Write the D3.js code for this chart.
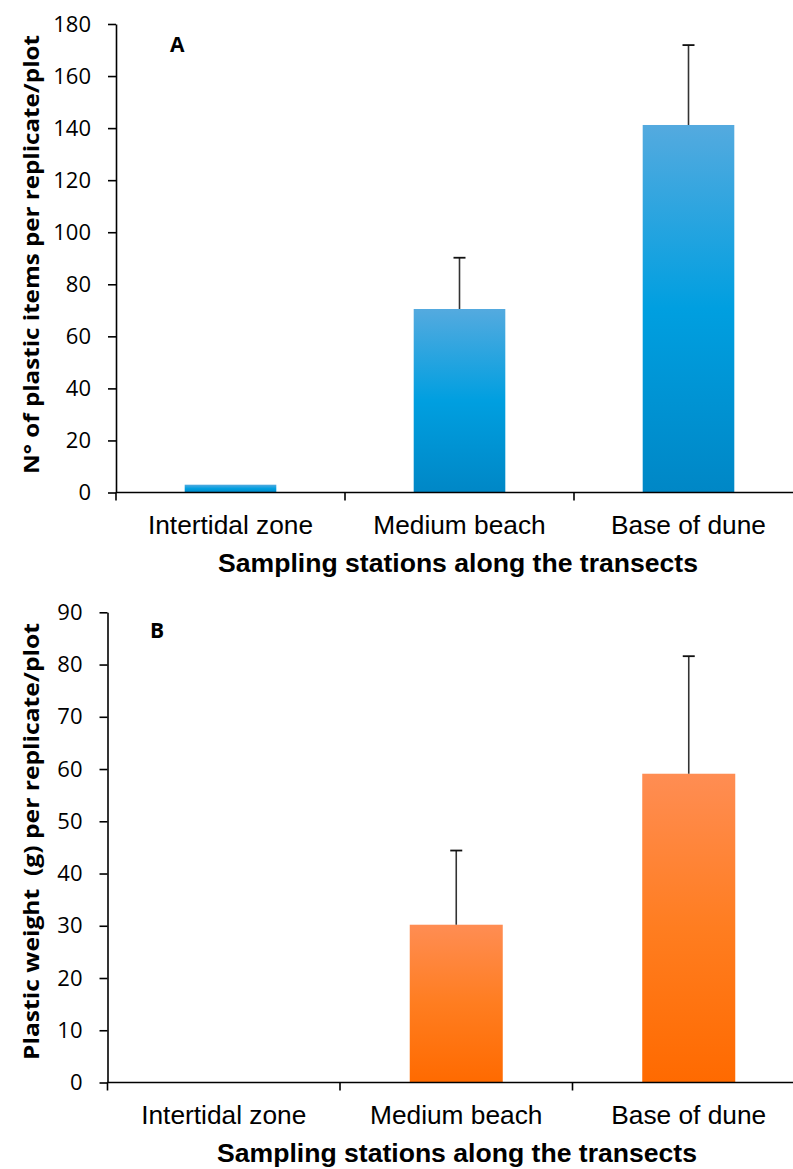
<!DOCTYPE html>
<html>
<head>
<meta charset="utf-8">
<script src="https://cdn.jsdelivr.net/npm/d3@7"></script>
<style>
  html, body { margin: 0; padding: 0; background: #fff; }
  svg { display: block; }
  text { white-space: pre; }
</style>
</head>
<body>
<svg id="chart" width="793" height="1169"></svg>
<script>
// ---------- data ----------
const categories = ["Intertidal zone", "Medium beach", "Base of dune"];

const itemsMean = [3, 70.5, 141.2];
const itemsErr  = [0, 19.7, 30.7];
const itemsTicks = [0, 20, 40, 60, 80, 100, 120, 140, 160, 180];

const weightMean = [0, 30.2, 59.1];
const weightErr  = [0, 14.2, 22.5];
const weightTicks = [0, 10, 20, 30, 40, 50, 60, 70, 80, 90];

const xTitle = "Sampling stations along the transects";
const yTitleA = "N° of plastic items per replicate/plot";
const yTitleB = "Plastic weight  (g) per replicate/plot";

// ---------- drawing ----------
const svg = d3.select("#chart");
const defs = svg.append("defs");

function gradient(id, stops) {
  const g = defs.append("linearGradient").attr("id", id)
    .attr("x1", 0).attr("y1", 0).attr("x2", 0).attr("y2", 1);
  stops.forEach(s => g.append("stop").attr("offset", s[0]).attr("stop-color", s[1]));
}
gradient("gBlue", [[0, "#54aadf"], [0.5, "#009fe0"], [1, "#0087c6"]]);
gradient("gOrange", [[0, "#ff8d53"], [0.5, "#ff7d20"], [1, "#ff6a00"]]);

function panel(o) {
  const g = svg.append("g");
  const y = d3.scaleLinear().domain([0, o.max]).range([o.y0, o.y1]);
  const x = d3.scaleBand().domain(categories).range([o.x0, o.x1])
    .paddingInner(0.6).paddingOuter(0.3);
  const step = x.step();

  // y axis
  const ya = g.append("g").attr("transform", `translate(${o.x0},0)`)
    .call(d3.axisLeft(y).tickValues(o.ticks).tickSize(8).tickSizeOuter(0).tickPadding(17));
  ya.select(".domain").attr("stroke", "#000").attr("stroke-width", 1.6);
  ya.selectAll(".tick line").attr("stroke", "#000").attr("stroke-width", 1.6);
  ya.selectAll(".tick text").attr("font-family", "'Open Sans', 'Noto Sans', sans-serif")
    .attr("font-size", 22).attr("fill", "#000");

  // bars
  g.selectAll("rect.bar").data(o.mean).enter().append("rect")
    .attr("class", "bar")
    .attr("x", (d, i) => x(categories[i]))
    .attr("width", x.bandwidth())
    .attr("y", d => y(d))
    .attr("height", d => y(0) - y(d))
    .attr("fill", `url(#${o.grad})`);

  // error bars (upper only)
  const eb = g.selectAll("g.err").data(o.mean.map((m, i) => ({m, e: o.err[i], c: categories[i]})))
    .enter().filter(d => d.e > 0).append("g").attr("class", "err");
  eb.append("line")
    .attr("x1", d => x(d.c) + x.bandwidth() / 2).attr("x2", d => x(d.c) + x.bandwidth() / 2)
    .attr("y1", d => y(d.m)).attr("y2", d => y(d.m + d.e))
    .attr("stroke", "#333").attr("stroke-width", 1.6);
  eb.append("line")
    .attr("x1", d => x(d.c) + x.bandwidth() / 2 - 6).attr("x2", d => x(d.c) + x.bandwidth() / 2 + 6)
    .attr("y1", d => y(d.m + d.e)).attr("y2", d => y(d.m + d.e))
    .attr("stroke", "#111").attr("stroke-width", 1.8);

  // x axis line
  g.append("line").attr("x1", o.x0).attr("x2", 793)
    .attr("y1", y(0)).attr("y2", y(0))
    .attr("stroke", "#000").attr("stroke-width", 1.6);
  // category ticks at band boundaries
  categories.forEach(c => {
    const bx = x(c) + x.bandwidth() / 2 - step / 2;
    g.append("line").attr("x1", bx).attr("x2", bx)
      .attr("y1", y(0)).attr("y2", y(0) + 8)
      .attr("stroke", "#000").attr("stroke-width", 1.6);
  });
  // category labels
  g.selectAll("text.cat").data(categories).enter().append("text")
    .attr("class", "cat")
    .attr("x", d => x(d) + x.bandwidth() / 2)
    .attr("y", y(0) + 41.5)
    .attr("text-anchor", "middle")
    .attr("font-family", "'Liberation Sans', Arial, sans-serif")
    .attr("font-size", 26.3).attr("fill", "#000")
    .text(d => d);

  // x title
  g.append("text")
    .attr("x", o.xTitleX).attr("y", y(0) + 79.5)
    .attr("text-anchor", "middle")
    .attr("font-family", "'Liberation Sans', Arial, sans-serif")
    .attr("font-weight", "bold")
    .attr("font-size", 26.5).attr("fill", "#000")
    .attr("textLength", 480).attr("lengthAdjust", "spacingAndGlyphs")
    .text(xTitle);

  // y title
  g.append("text")
    .attr("transform", `translate(${o.yTitleX},${o.yTitleY}) rotate(-90)`)
    .attr("text-anchor", "middle")
    .attr("xml:space", "preserve")
    .attr("font-family", "'Open Sans', 'Noto Sans', sans-serif")
    .attr("font-weight", "bold")
    .attr("font-size", 20.5).attr("fill", "#000")
    .attr("textLength", o.yTitleLen).attr("lengthAdjust", "spacingAndGlyphs")
    .text(o.yTitle);

  // panel letter
  g.append("text")
    .attr("x", o.letterX).attr("y", o.letterY)
    .attr("font-family", "'Open Sans', 'Noto Sans', sans-serif")
    .attr("font-weight", "bold")
    .attr("font-size", 21).attr("fill", "#000")
    .text(o.letter);
}

panel({
  max: 180, ticks: itemsTicks, mean: itemsMean, err: itemsErr, grad: "gBlue",
  x0: 116, x1: 803, y0: 492.5, y1: 24,
  xTitleX: 458, yTitle: yTitleA, yTitleX: 38.5, yTitleY: 254.5, yTitleLen: 439,
  letter: "A", letterX: 170, letterY: 52
});

panel({
  max: 90, ticks: weightTicks, mean: weightMean, err: weightErr, grad: "gOrange",
  x0: 107.5, x1: 805, y0: 1082.5, y1: 612.3,
  xTitleX: 457, yTitle: yTitleB, yTitleX: 39, yTitleY: 841.5, yTitleLen: 437,
  letter: "B", letterX: 150, letterY: 638
});
</script>
</body>
</html>
